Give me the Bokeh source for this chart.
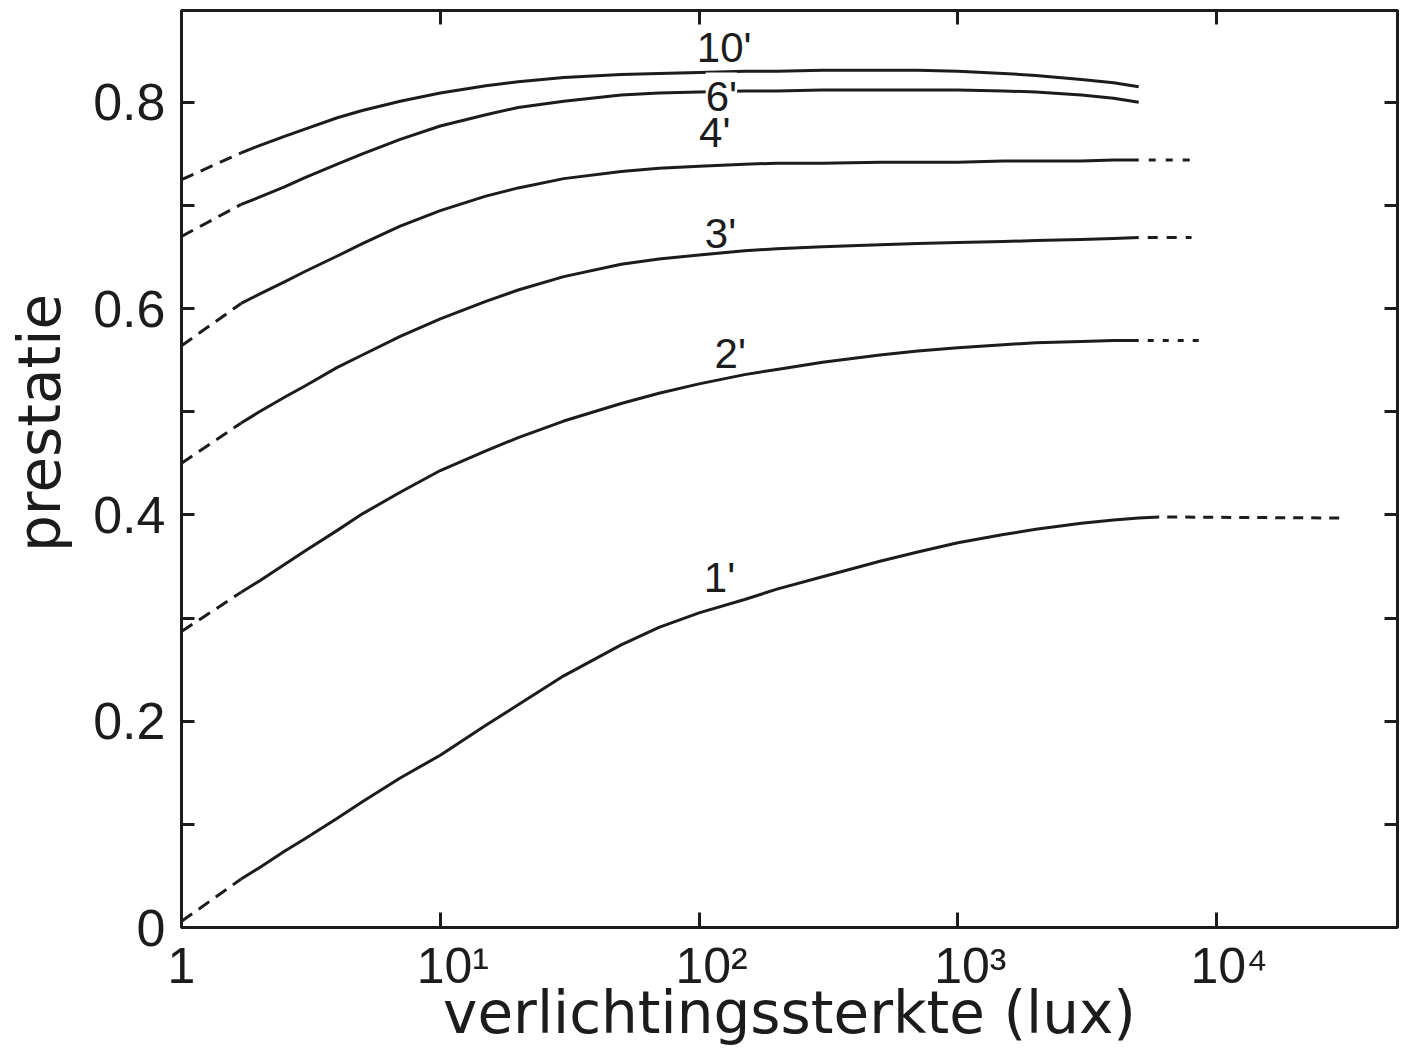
from bokeh.plotting import figure
from bokeh.models import Range1d, LinearAxis, LogAxis, FixedTicker, Label
from bokeh.embed import file_html
from bokeh.resources import INLINE

# ---------------- data ----------------
lux_left = [1.0, 1.7]        # dashed extrapolation towards 1 lux
lux_solid = [1.7, 2, 2.5, 3, 4, 5, 7, 10, 15, 20, 30, 50, 70, 100, 150, 200,
             300, 500, 700, 1000, 1500, 2000, 3000, 4000, 5000]

p10_left = [0.725, 0.751]
p10 = [0.751, 0.758, 0.767, 0.774, 0.785, 0.792, 0.801, 0.809, 0.816, 0.820, 0.824, 0.827, 0.828,
       0.829, 0.830, 0.830, 0.831, 0.831, 0.831, 0.830, 0.828, 0.826, 0.822, 0.819, 0.815]

p6_left = [0.670, 0.701]
p6 = [0.701, 0.708, 0.718, 0.727, 0.740, 0.750, 0.764, 0.777, 0.788, 0.795, 0.801, 0.807, 0.809,
      0.810, 0.811, 0.811, 0.812, 0.812, 0.812, 0.812, 0.811, 0.810, 0.807, 0.804, 0.800]

p4_left = [0.564, 0.605]
p4 = [0.605, 0.614, 0.626, 0.636, 0.651, 0.663, 0.680, 0.695, 0.709, 0.717, 0.726, 0.733, 0.736,
      0.738, 0.740, 0.741, 0.741, 0.742, 0.742, 0.742, 0.743, 0.743, 0.743, 0.744, 0.744]
p4_ext_lux = [5000, 8000]
p4_ext = [0.744, 0.744]

p3_left = [0.450, 0.489]
p3 = [0.489, 0.500, 0.514, 0.525, 0.543, 0.555, 0.573, 0.590, 0.607, 0.618, 0.631, 0.643, 0.648,
      0.652, 0.656, 0.658, 0.660, 0.662, 0.663, 0.664, 0.665, 0.666, 0.667, 0.668, 0.669]
p3_ext_lux = [5000, 8000]
p3_ext = [0.669, 0.669]

p2_left = [0.287, 0.325]
p2 = [0.325, 0.336, 0.352, 0.365, 0.385, 0.401, 0.422, 0.443, 0.462, 0.475, 0.491, 0.508, 0.518,
      0.527, 0.536, 0.541, 0.548, 0.555, 0.559, 0.562, 0.565, 0.567, 0.568, 0.569, 0.569]
p2_ext_lux = [5000, 9000]
p2_ext = [0.569, 0.569]

p1_left = [0.006, 0.047]
lux_solid_1 = lux_solid + [6000]
p1 = [0.047, 0.058, 0.074, 0.086, 0.106, 0.122, 0.145, 0.167, 0.196, 0.216, 0.244, 0.274, 0.291,
      0.305, 0.318, 0.328, 0.340, 0.355, 0.364, 0.373, 0.381, 0.386, 0.392, 0.395, 0.397, 0.398]
p1_ext_lux = [6000, 30000]
p1_ext = [0.398, 0.397]

curve_labels = ["10'", "6'", "4'", "3'", "2'", "1'"]
label_lux = [125, 122, 115, 121, 132, 120]
label_val = [0.853, 0.806, 0.771, 0.673, 0.556, 0.339]

x_ticks = [1, 10, 100, 1000, 10000]
x_tick_text = ["1", "\u200210\u00b9", "\u200210\u00b2", "\u200210\u00b3", "\u200210\u2074"]
y_ticks = [0, 0.2, 0.4, 0.6, 0.8]
y_tick_text = ["0", "0.2", "0.4", "0.6", "0.8"]
y_minor = [0.1, 0.3, 0.5, 0.7]
y_right_ticks = [0.1, 0.2, 0.3, 0.4, 0.5, 0.6, 0.7, 0.8]

# ---------------- styling ----------------
INK = "#1c1c1c"
TICK_FONT = "Liberation Sans"
LABEL_FONT = "DejaVu Sans"
LW = 3

p = figure(width=1399, height=1049, x_axis_type="log",
           x_range=Range1d(1, 5e4), y_range=Range1d(0, 0.889),
           x_axis_location=None, y_axis_location=None,
           output_backend="svg", toolbar_location=None,
           min_border_left=181, min_border_right=2, min_border_top=10, min_border_bottom=100)
p.grid.visible = False
p.outline_line_color = INK
p.outline_line_width = LW
p.background_fill_color = "white"
p.border_fill_color = "white"

def style_axis(ax):
    ax.axis_line_color = INK
    ax.axis_line_width = LW
    ax.major_tick_line_color = INK
    ax.major_tick_line_width = LW
    ax.minor_tick_line_color = INK
    ax.minor_tick_line_width = LW
    ax.major_tick_out = 0
    ax.minor_tick_out = 0
    ax.major_label_text_font = TICK_FONT
    ax.major_label_text_color = INK
    ax.axis_label_text_font = LABEL_FONT
    ax.axis_label_text_font_style = "normal"
    ax.axis_label_text_color = INK

def hide_labels(ax):
    ax.major_label_text_font_size = "1px"
    ax.major_label_text_color = None
    ax.major_label_standoff = 0

bottom = LogAxis(ticker=FixedTicker(ticks=x_ticks, minor_ticks=[]),
                 major_label_overrides=dict(zip(x_ticks, x_tick_text)),
                 axis_label="verlichtingssterkte (lux)")
style_axis(bottom)
bottom.major_tick_in = 15
bottom.major_label_text_font_size = "50px"
bottom.major_label_standoff = 10
bottom.axis_label_text_font_size = "58px"
bottom.axis_label_standoff = -18
p.add_layout(bottom, "below")

top = LogAxis(ticker=FixedTicker(ticks=x_ticks[1:], minor_ticks=[]))
style_axis(top)
top.major_tick_in = 14
hide_labels(top)
p.add_layout(top, "above")

# leading no-break spaces move the centred vertical title upwards, as in the original
left = LinearAxis(ticker=FixedTicker(ticks=y_ticks, minor_ticks=y_minor),
                  major_label_overrides=dict(zip(y_ticks, y_tick_text)),
                  axis_label="\u00a0" * 5 + "prestatie")
style_axis(left)
left.major_tick_in = 13
left.minor_tick_in = 13
left.major_label_text_font_size = "52px"
left.major_label_standoff = 16
left.axis_label_text_font_size = "58px"
left.axis_label_standoff = 16
p.add_layout(left, "left")

right = LinearAxis(ticker=FixedTicker(ticks=y_right_ticks, minor_ticks=[]))
style_axis(right)
right.major_tick_in = 13
hide_labels(right)
p.add_layout(right, "right")

# ---------------- curves ----------------
LEFT_DASH = "13 8"
curves = [
    (p10_left, lux_solid, p10, None, None, None),
    (p6_left, lux_solid, p6, None, None, None),
    (p4_left, lux_solid, p4, p4_ext_lux, p4_ext, "7 10"),
    (p3_left, lux_solid, p3, p3_ext_lux, p3_ext, "10 9"),
    (p2_left, lux_solid, p2, p2_ext_lux, p2_ext, "6 9"),
    (p1_left, lux_solid_1, p1, p1_ext_lux, p1_ext, "10 8"),
]
for yl, xs, ys, xe, ye, dash in curves:
    p.line(lux_left, yl, line_color=INK, line_width=LW, line_dash=LEFT_DASH)
    p.line(xs, ys, line_color=INK, line_width=LW, line_join="round")
    if xe is not None:
        p.line(xe, ye, line_color=INK, line_width=LW, line_dash=dash,
               line_dash_offset=int(dash.split()[0]))

for txt, lx, ly in zip(curve_labels, label_lux, label_val):
    lab = Label(x=lx, y=ly, text=txt, text_align="center", text_baseline="middle",
                text_font=TICK_FONT, text_font_size="42px", text_color=INK)
    if txt == "6'":
        lab.background_fill_color = "white"
    p.add_layout(lab)

open("out.html", "w").write(file_html(p, INLINE))
